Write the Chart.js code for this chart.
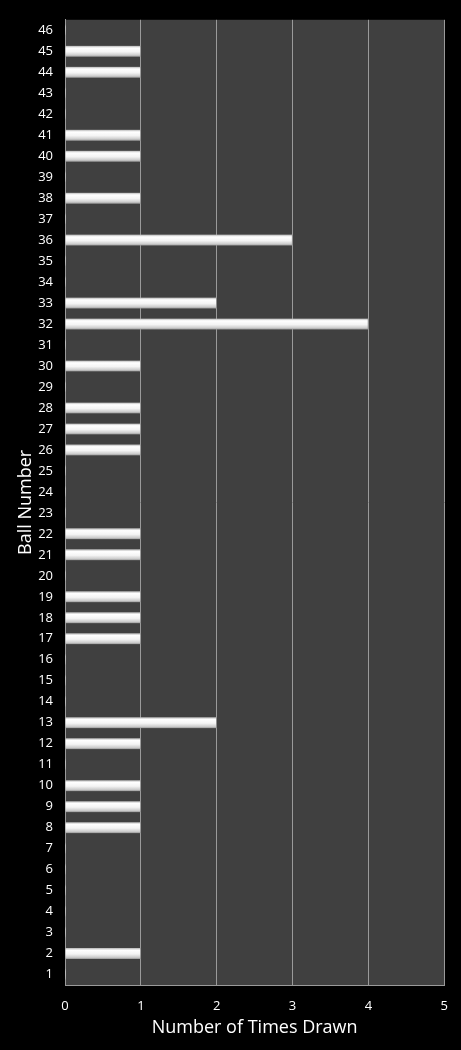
<!DOCTYPE html>
<html>
<head>
<meta charset="utf-8">
<script src="https://cdn.jsdelivr.net/npm/chart.js@4/dist/chart.umd.min.js"></script>
<style>
  html, body { margin: 0; padding: 0; background: #000; }
  #wrap { width: 461px; height: 1050px; }
</style>
</head>
<body>
<div id="wrap"><canvas id="ballChart"></canvas></div>
<script>
// Ball numbers (bottom to top) and how often each was drawn
const ballNumbers = ['1','2','3','4','5','6','7','8','9','10','11','12','13','14','15','16',
  '17','18','19','20','21','22','23','24','25','26','27','28','29','30','31','32','33',
  '34','35','36','37','38','39','40','41','42','43','44','45','46'];
const timesDrawn = [0,1,0,0,0,0,0,1,1,1,0,1,2,0,0,0,
  1,1,1,0,1,1,0,0,0,1,1,1,0,1,0,4,2,
  0,0,3,0,1,0,1,1,0,0,1,1,0];
const xTicks = [0, 1, 2, 3, 4, 5];

const gridGray = '#9a9a9a';

// black page, dark grey plot area
const backdrop = {
  id: 'backdrop',
  beforeDraw(chart) {
    const c = chart.ctx, a = chart.chartArea;
    c.save();
    c.fillStyle = '#000';
    c.fillRect(0, 0, chart.width, chart.height);
    c.fillStyle = '#404040';
    c.fillRect(a.left, a.top, a.right - a.left, a.bottom - a.top);
    c.restore();
  }
};

// shiny "tube" look for each bar
function barFill(context) {
  const chart = context.chart;
  const y = chart.scales.y;
  if (!y || context.dataIndex === undefined) return '#e0e0e0';
  const mid = y.getPixelForValue(context.dataIndex);
  if (!isFinite(mid)) return '#e0e0e0';
  const half = 5.5;
  const g = chart.ctx.createLinearGradient(0, mid - half, 0, mid + half);
  g.addColorStop(0, '#b4b4b4');
  g.addColorStop(0.2, '#ffffff');
  g.addColorStop(0.55, '#f4f4f4');
  g.addColorStop(0.85, '#cccccc');
  g.addColorStop(1, '#959595');
  return g;
}

new Chart(document.getElementById('ballChart').getContext('2d'), {
  type: 'bar',
  data: {
    labels: ballNumbers,
    datasets: [{
      label: 'Times Drawn',
      data: timesDrawn,
      backgroundColor: barFill,
      borderColor: '#8a8a8a',
      borderWidth: { right: 1, top: 0, bottom: 0, left: 0 },
      barThickness: 11
    }]
  },
  plugins: [backdrop],
  options: {
    indexAxis: 'y',
    responsive: true,
    maintainAspectRatio: false,
    animation: false,
    layout: { padding: { top: 16, right: 16, left: 0, bottom: 0 } },
    plugins: {
      legend: { display: false },
      tooltip: { enabled: false }
    },
    scales: {
      x: {
        min: 0,
        max: 5,
        afterBuildTicks(scale) { scale.ticks = xTicks.map(v => ({ value: v })); },
        afterFit(scale) { scale.height = 65; },
        grid: { color: gridGray, lineWidth: 1, drawTicks: false },
        border: { color: gridGray, width: 1 },
        ticks: { color: '#ffffff', padding: 13, font: { family: 'Open Sans', size: 13 } },
        title: {
          display: true,
          text: 'Number of Times Drawn',
          color: '#ffffff',
          font: { family: 'Open Sans', size: 18 },
          padding: { top: 0, bottom: 11 }
        }
      },
      y: {
        reverse: true,
        afterFit(scale) { scale.width = 65; },
        grid: { display: false, drawTicks: false },
        border: { color: gridGray, width: 1 },
        ticks: { color: '#ffffff', padding: 12, autoSkip: false, font: { family: 'Open Sans', size: 13 } },
        title: {
          display: true,
          text: 'Ball Number',
          color: '#ffffff',
          font: { family: 'Open Sans', size: 18 },
          padding: { top: 15, bottom: 0 }
        }
      }
    }
  }
});
</script>
</body>
</html>
